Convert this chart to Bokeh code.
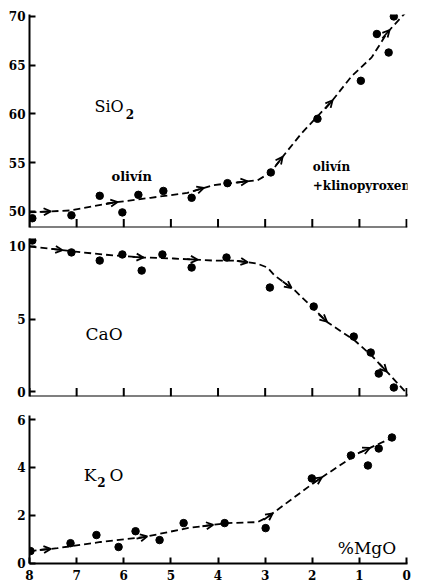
import numpy as np
from bokeh.plotting import figure
from bokeh.layouts import column
from bokeh.models import Range1d, FixedTicker, Arrow, OpenHead, Label, ColumnDataSource, Span
from bokeh.embed import file_html
from bokeh.resources import INLINE

# ---------------- data ----------------
mgo_ticks = [0, 1, 2, 3, 4, 5, 6, 7, 8]

# SiO2 panel
sio2_mgo = [7.94, 7.11, 6.51, 6.03, 5.69, 5.16, 4.56, 3.80, 2.88, 1.89, 0.97, 0.63, 0.38, 0.27]
sio2_val = [49.3, 49.6, 51.6, 49.9, 51.7, 52.1, 51.4, 52.9, 54.0, 59.5, 63.4, 68.2, 66.3, 70.0]
sio2_trend_mgo = [8.0, 7.13, 6.22, 5.43, 4.65, 4.1, 3.16, 2.88, 2.63, 2.23, 1.57, 1.16, 0.74, 0.40, 0.04]
sio2_trend_val = [49.9, 50.1, 50.9, 51.4, 51.9, 52.7, 53.2, 54.0, 55.6, 58.0, 61.4, 63.9, 65.8, 68.4, 70.3]
sio2_arrow_mgo = [7.55, 6.13, 4.3, 3.37, 2.63, 1.57, 0.36]
sio2_ticks = [50, 55, 60, 65, 70]

# CaO panel
cao_mgo = [7.94, 7.11, 6.51, 6.03, 5.62, 5.18, 4.56, 3.82, 2.90, 1.97, 1.12, 0.76, 0.59, 0.27]
cao_val = [10.41, 9.59, 9.03, 9.45, 8.34, 9.45, 8.55, 9.24, 7.17, 5.86, 3.79, 2.69, 1.24, 0.28]
cao_trend_mgo = [8.0, 6.87, 6.22, 5.58, 4.94, 4.1, 3.65, 3.18, 2.95, 2.8, 2.37, 1.67, 1.1, 0.74, 0.4, -0.05]
cao_trend_val = [10.0, 9.59, 9.38, 9.24, 9.17, 9.03, 9.03, 8.83, 8.55, 8.0, 6.97, 4.76, 3.52, 2.48, 1.31, -0.28]
cao_arrow_mgo = [7.3, 5.58, 4.43, 3.37, 2.44, 1.69, 0.42]
cao_ticks = [0, 5, 10]

# K2O panel
k2o_mgo = [7.98, 7.13, 6.58, 6.11, 5.75, 5.24, 4.73, 3.86, 2.99, 2.01, 1.18, 0.82, 0.59, 0.31]
k2o_val = [0.5, 0.83, 1.17, 0.67, 1.33, 0.96, 1.67, 1.67, 1.46, 3.54, 4.5, 4.08, 4.79, 5.25]
k2o_trend_mgo = [8.0, 7.41, 6.49, 5.58, 4.65, 3.8, 3.16, 2.95, 1.95, 1.04, 0.29]
k2o_trend_val = [0.5, 0.62, 0.88, 1.08, 1.46, 1.67, 1.71, 1.92, 3.38, 4.58, 5.25]
k2o_arrow_mgo = [7.55, 5.5, 4.1, 2.84, 1.8, 0.78]
k2o_ticks = [0, 2, 4, 6]

SERIF = "DejaVu Serif"
W = 428
BL, BR = 29, 21
X_RANGE = (8.0, -0.02)
FRAME_W = W - BL - BR


def style_axis(ax):
    ax.axis_line_width = 2
    ax.axis_line_color = "black"
    ax.major_tick_line_width = 2
    ax.major_tick_line_color = "black"
    ax.major_tick_in = 6
    ax.major_tick_out = 0
    ax.minor_tick_line_color = None
    ax.major_label_text_font = SERIF
    ax.major_label_text_font_style = "bold"
    ax.major_label_text_font_size = "12px"
    ax.major_label_text_color = "black"


def make_panel(height, yr, yticks, btop, bbottom, frame_h, show_xlabels):
    p = figure(width=W, height=height, x_range=Range1d(*X_RANGE), y_range=Range1d(*yr),
               output_backend="svg", toolbar_location=None,
               min_border_left=BL, min_border_right=BR,
               min_border_top=btop, min_border_bottom=bbottom)
    p.grid.visible = False
    p.outline_line_color = None
    p.background_fill_color = "white"
    p.border_fill_color = "white"
    p.yaxis.ticker = FixedTicker(ticks=yticks)
    style_axis(p.yaxis[0])
    p.yaxis.major_label_standoff = 4
    if show_xlabels:
        p.xaxis.ticker = FixedTicker(ticks=mgo_ticks)
        style_axis(p.xaxis[0])
        p.xaxis.major_label_standoff = 6
    else:
        # unlabeled x-axis: line plus inward ticks at the MgO tick values
        p.xaxis.visible = False
        p.add_layout(Span(location=yr[0], dimension="width", line_color="black", line_width=2))
        sy = frame_h / (yr[1] - yr[0])
        n = len(mgo_ticks)
        p.segment(x0=mgo_ticks, y0=[yr[0]] * n, x1=mgo_ticks, y1=[yr[0] + 8.5 / sy] * n,
                  line_color="black", line_width=2)
    return p


def add_series(p, mx, my, tx, ty, amgo, yr, frame_h):
    p.line(tx, ty, line_color="black", line_width=1.8, line_dash="7 4")
    p.scatter(mx, my, size=7.5, color="black")
    # arrows placed along the dashed trend, ~11 px long
    sx = FRAME_W / abs(X_RANGE[0] - X_RANGE[1])
    sy = frame_h / (yr[1] - yr[0])
    xs = np.array(tx[::-1], dtype=float)
    ys = np.array(ty[::-1], dtype=float)
    xe = np.array(amgo, dtype=float)
    ye = np.interp(xe, xs, ys)
    slope = (np.interp(xe + 0.05, xs, ys) - np.interp(xe - 0.05, xs, ys)) / 0.1
    pix = np.sqrt(sx ** 2 + (sy * slope) ** 2)
    k = 11.0 / pix
    src = ColumnDataSource(dict(x0=xe + k, y0=ye + k * slope, x1=xe, y1=ye))
    p.add_layout(Arrow(end=OpenHead(size=7, line_width=1.8, line_color="black"),
                       x_start="x0", y_start="y0", x_end="x1", y_end="y1",
                       line_width=1.8, line_color="black", source=src))


def lab(p, x, y, text, size, bold=False):
    p.add_layout(Label(x=x, y=y, text=text, text_font=SERIF, text_font_size=size,
                       text_font_style="bold" if bold else "normal",
                       text_color="black", text_baseline="alphabetic", text_align="left"))


# top panel: SiO2
yr1 = (48.35, 70.2)
p1 = make_panel(232, yr1, sio2_ticks, 14, 5, 213, False)
add_series(p1, sio2_mgo, sio2_val, sio2_trend_mgo, sio2_trend_val, sio2_arrow_mgo, yr1, 213)
lab(p1, 6.62, 60.77, "SiO", "16px")
lab(p1, 5.96, 59.95, "2", "12px", True)
lab(p1, 6.26, 53.6, "olivín", "13px", True)
lab(p1, 1.99, 54.6, "olivín", "12px", True)
lab(p1, 1.99, 52.56, "+klinopyroxen", "12px", True)

# middle panel: CaO
yr2 = (-0.34, 10.55)
p2 = make_panel(168, yr2, cao_ticks, 6, 4, 158, False)
add_series(p2, cao_mgo, cao_val, cao_trend_mgo, cao_trend_val, cao_arrow_mgo, yr2, 158)
lab(p2, 6.81, 4.0, "CaO", "17px")

# bottom panel: K2O
yr3 = (-0.02, 6.17)
p3 = make_panel(184, yr3, k2o_ticks, 15, 21, 148, True)
add_series(p3, k2o_mgo, k2o_val, k2o_trend_mgo, k2o_trend_val, k2o_arrow_mgo, yr3, 148)
lab(p3, 6.85, 3.67, "K", "17px")
lab(p3, 6.56, 3.375, "2", "12px", True)
lab(p3, 6.30, 3.67, "O", "17px")
lab(p3, 1.46, 0.62, "%MgO", "17px")

layout = column(p1, p2, p3, spacing=0)
open("out.html", "w").write(file_html(layout, INLINE))
